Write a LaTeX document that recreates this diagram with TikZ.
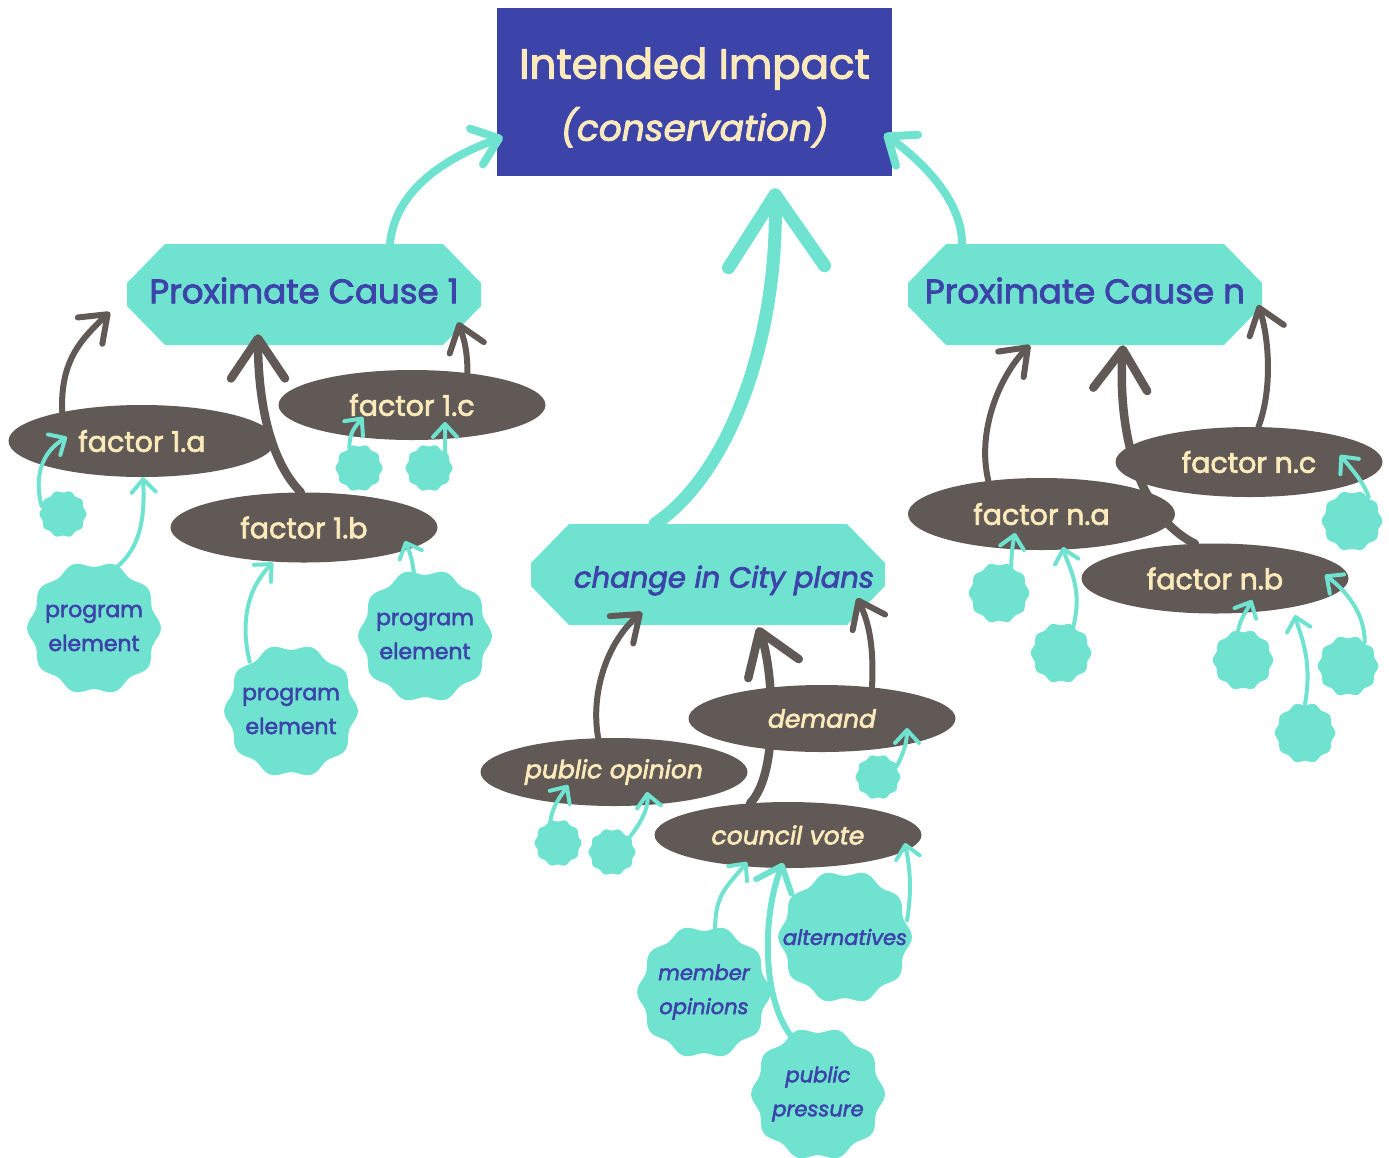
\documentclass[tikz,border=0pt]{standalone}
\usepackage{fontspec}
\setmainfont{Poppins}[FakeBold=2.5]
\usetikzlibrary{arrows.meta,shapes.geometric}

\definecolor{indigo}{HTML}{3C44AA}
\definecolor{mint}{HTML}{70E2D0}
\definecolor{bark}{HTML}{605956}
\definecolor{cream}{HTML}{FCEABB}

\tikzset{
  impactbox/.style={rectangle, fill=indigo, text=cream, minimum width=395pt, minimum height=168pt, align=center, font=\fontsize{42}{62}\selectfont},
  causebox/.style={rectangle, minimum width=354pt, minimum height=101pt, inner sep=0pt, text=indigo, font=\fontsize{34}{40}\selectfont,
    path picture={\fill[mint] ([xshift=38pt]path picture bounding box.north west) -- ([xshift=-38pt]path picture bounding box.north east)
      -- ([yshift=11.5pt]path picture bounding box.east) -- ([yshift=-11.5pt]path picture bounding box.east)
      -- ([xshift=-38pt]path picture bounding box.south east) -- ([xshift=38pt]path picture bounding box.south west)
      -- ([yshift=-11.5pt]path picture bounding box.west) -- ([yshift=11.5pt]path picture bounding box.west) -- cycle;}},
  factor/.style={ellipse, fill=bark, text=cream, inner sep=0pt, minimum width=267pt, minimum height=70pt, font=\fontsize{28.5}{32}\selectfont},
  factorit/.style={factor, font=\fontsize{25}{30}\selectfont\itshape},
  blobnode/.style={circle, inner sep=0pt, text=indigo, align=center, font=\fontsize{22}{34}\selectfont},
  blobit/.style={blobnode, font=\fontsize{21}{34}\selectfont\itshape},
  barkline/.style={draw=bark, line width=6pt, line cap=round, -{Straight Barb[length=24pt,width=36pt,round]}},
  barkbig/.style={draw=bark, line width=8.5pt, line cap=round, -{Straight Barb[length=40pt,width=54pt,round]}},
  mintline/.style={draw=mint, line width=4pt, line cap=round, -{Straight Barb[length=13pt,width=24pt,round]}},
  mintbig/.style={draw=mint, line width=8pt, line cap=round, -{Straight Barb[length=24pt,width=38pt,round]}},
}

% wavy disc with a named node on top
\newcommand\blob[5][blobnode]{%
  \fill[mint,shift={(#3)}] plot[domain=0:360,samples=121,smooth] (\x:{#4*(1+0.045*cos(10*\x))}) -- cycle;
  \node[#1,minimum size={2pt*#4}] (#2) at (#3) {#5};
}

\begin{document}
\begin{tikzpicture}[x=1pt,y=-1pt]
    \useasboundingbox (0,0) rectangle (1389,1157);

    % impact and proximate causes
    \node[impactbox] (ii) at (694.5,92) {\rule{0pt}{42pt}Intended Impact\\{\fontsize{36}{62}\selectfont\itshape (conservation)}};
    \node[causebox] (pc1) at (304,294.5) {\raisebox{4pt}[\height][\depth]{Proximate Cause 1}};
    \node[causebox] (pcn) at (1085,294.5) {\raisebox{4pt}[\height][\depth]{Proximate Cause n}};
    \node[causebox] (ccp) at (708,574.5) {\hspace*{32pt}\raisebox{-6pt}[\height][\depth]{\fontsize{29}{34}\selectfont\itshape change in City plans}};

    % factors
    \node[factor, minimum height=72pt] (f1a) at (142,441) {factor 1.a};
    \node[factor] (f1c) at (412,405) {factor 1.c};
    \node[factor] (f1b) at (304,527.5) {factor 1.b};
    \node[factor, minimum height=72pt] (fna) at (1041.5,514) {factor n.a};
    \node[factor] (fnc) at (1249,462) {factor n.c};
    \node[factor] (fnb) at (1215,578.5) {factor n.b};
    \node[factorit, minimum height=68pt] (pop) at (614,772) {public opinion};
    \node[factorit, minimum height=66pt] (cv) at (788,835) {council vote};

    % council vote runs behind demand
    \coordinate (dempos) at (822,718.5);
    \draw[barkbig] (cv.140) .. controls +(30,-30) and +(15,40) .. ([xshift=50pt,yshift=-2pt]ccp.south);
    \node[factorit, minimum height=67pt] (dem) at (dempos) {demand};

    % program elements and influences
    \blob{b1a}{63,514}{22.5}{}
    \blob{pe1}{94,628}{64}{program\\element}
    \blob{pe2}{291,711}{64}{program\\element}
    \blob{pe3}{425,636}{64}{program\\element}
    \blob{b1c1}{359,468}{22.5}{}
    \blob{b1c2}{429,468}{22.5}{}
    \blob{bna1}{999,593}{29}{}
    \blob{bna2}{1061,653}{29}{}
    \blob{bnb1}{1243,660}{29}{}
    \blob{bnb2}{1348,666}{29}{}
    \blob{bnb3}{1305,733}{29}{}
    \blob{bnc}{1352,521}{29}{}
    \blob{bpo1}{558,843}{22.5}{}
    \blob{bpo2}{612,852}{22.5}{}
    \blob{bdem}{878,777}{21.5}{}
    \blob[blobit]{mo}{704,992}{64}{member\\opinions}
    \blob[blobit]{alt}{845,937}{64}{alternatives}
    \blob[blobit]{pp}{818,1094}{64}{public\\pressure}

    % causes to impact
    \draw[mintbig] ([xshift=86pt]pc1.north) .. controls +(5,-55) and +(-55,20) .. ([xshift=6pt,yshift=-45pt]ii.west);
    \draw[mintbig] ([xshift=-123pt]pcn.north) .. controls +(0,-45) and +(35,25) .. ([xshift=-8pt,yshift=-42pt]ii.east);
    \draw[draw=mint, line width=13pt, line cap=round, -{Straight Barb[length=72pt,width=96pt,round]}]
        ([xshift=-53pt]ccp.north) .. controls +(75,-50) and +(3,150) .. ([xshift=80.5pt,yshift=-12pt]ii.south);

    % factors to causes
    \draw[barkline] (f1a.160) .. controls +(-2,-50) and +(-30,28) .. ([xshift=-17pt,yshift=33pt]pc1.south west);
    \draw[barkbig] (f1b.95) .. controls +(-30,-30) and +(0,70) .. ([xshift=-46pt,yshift=11pt]pc1.south);
    \draw[barkline] (f1c.30) .. controls +(0,-25) and +(5,15) .. ([xshift=-23pt,yshift=23pt]pc1.south east);
    \draw[barkline] (fna.148) .. controls +(-12,-50) and +(-30,30) .. ([xshift=-55pt]pcn.south);
    \draw[barkbig] (fnb.120) .. controls +(-60,-30) and +(-5,80) .. ([xshift=38pt]pcn.south);
    \draw[barkline] (fnc.75) .. controls +(15,-40) and +(10,30) .. ([xshift=-4pt,yshift=-10.5pt]pcn.east);
    \draw[barkline] (pop.115) .. controls +(-8,-45) and +(-35,30) .. ([xshift=-66pt,yshift=13pt]ccp.south);
    \draw[barkline] (dem.32) .. controls +(2,-40) and +(12,25) .. ([xshift=-28pt,yshift=-23.5pt]ccp.east);

    % elements to factors
    \draw[mintline] (b1a.160) .. controls +(-8,-30) and +(-25,15) .. ([xshift=-75pt,yshift=4pt]f1a.center);
    \draw[mintline] (pe1.70) .. controls +(25,-20) and +(2,40) .. ([xshift=1pt]f1a.south);
    \draw[mintline] (pe2.130) .. controls +(-10,-40) and +(-25,25) .. ([xshift=-31pt]f1b.south);
    \draw[mintline] (pe3.100) .. controls +(-2,-15) and +(5,12) .. ([xshift=101pt,yshift=-13.5pt]f1b.center);
    \draw[mintline] (b1c1.115) .. controls +(0,-15) and +(-8,10) .. ([xshift=-49pt,yshift=-12pt]f1c.center);
    \draw[mintline] (b1c2.45) .. controls +(0,-12) and +(0,10) .. ([xshift=33pt,yshift=-17pt]f1c.center);
    \draw[mintline] (bna1.65) .. controls +(0,-15) and +(-2,10) .. ([xshift=-26.5pt,yshift=-19pt]fna.center);
    \draw[mintline] (bna2.65) .. controls +(10,-40) and +(5,20) .. ([xshift=21.5pt,yshift=-33pt]fna.center);
    \draw[mintline] (bnb1.100) .. controls +(2,-12) and +(-5,10) .. ([xshift=37pt,yshift=-21.5pt]fnb.center);
    \draw[mintline] (bnb3.north) .. controls +(8,-45) and +(5,20) .. ([xshift=80pt,yshift=-36.5pt]fnb.center);
    \draw[mintline] (bnb2.55) .. controls +(0,-30) and +(20,15) .. ([xshift=110pt,yshift=3.5pt]fnb.center);
    \draw[mintline] (bnc.55) .. controls +(-5,-15) and +(10,12) .. ([xshift=91pt,yshift=7pt]fnc.center);
    \draw[mintline] (bpo1.110) .. controls +(2,-15) and +(-8,12) .. ([xshift=-46pt,yshift=-13pt]pop.center);
    \draw[mintline] (bpo2.40) .. controls +(12,-15) and +(2,15) .. ([xshift=33pt,yshift=-20pt]pop.center);
    \draw[mintline] (bdem.30) .. controls +(8,-15) and +(0,12) .. ([xshift=85pt,yshift=-9.5pt]dem.center);
    \draw[mintline] (mo.80) .. controls +(0,-35) and +(-20,25) .. ([xshift=-41pt,yshift=-27pt]cv.center);
    \draw[mintline, line width=6pt, -{Straight Barb[length=22pt,width=38pt,round]}] (pp.115) .. controls +(-30,-40) and +(-20,50) .. ([xshift=-5pt,yshift=-28pt]cv.center);
    \draw[mintline] (alt.15) .. controls +(5,-30) and +(5,25) .. ([xshift=117pt,yshift=-8pt]cv.center);

\end{tikzpicture}
\end{document}
